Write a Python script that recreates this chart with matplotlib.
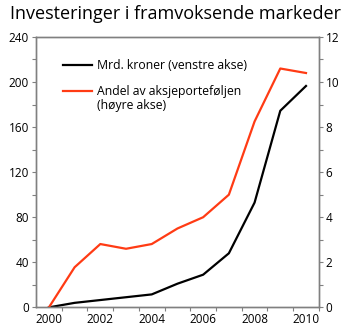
import matplotlib
matplotlib.use("Agg")
import matplotlib.pyplot as plt
from matplotlib.lines import Line2D
from matplotlib.ticker import MultipleLocator

plt.rcParams['font.family'] = ['Open Sans', 'DejaVu Sans']

years = [2000, 2001, 2002, 2003, 2004, 2005, 2006, 2007, 2008, 2009, 2010]
mrd_kroner = [0, 4, 6.5, 9, 11.5, 21, 29, 48, 93, 174.5, 196.5]
andel = [0, 1.78, 2.81, 2.6, 2.81, 3.5, 4.0, 5.0, 8.25, 10.6, 10.4]

grey = '#808080'
orange = '#ff3b14'

fig = plt.figure(figsize=(3.5, 3.33), dpi=100)
ax = fig.add_axes([0.103, 0.077, 0.808, 0.812])
ax2 = ax.twinx()

l1, = ax.plot(years, mrd_kroner, color='black', lw=1.6)
l2, = ax2.plot(years, andel, color=orange, lw=1.6)

ax.set_xlim(1999.5, 2010.5)
ax.set_ylim(0, 240)
ax2.set_ylim(0, 12)
ax.set_xticks([2000, 2002, 2004, 2006, 2008, 2010])
ax.set_xticks([y + 0.5 for y in years], minor=True)
ax.yaxis.set_major_locator(MultipleLocator(40))
ax.yaxis.set_minor_locator(MultipleLocator(20))
ax2.yaxis.set_major_locator(MultipleLocator(2))
ax2.yaxis.set_minor_locator(MultipleLocator(1))

for a in (ax, ax2):
    for s in a.spines.values():
        s.set_color(grey)
        s.set_linewidth(1.0)
    a.tick_params(which='both', colors=grey, labelcolor='black', labelsize=8.5, width=0.8)
    a.tick_params(which='major', length=3, pad=2)
    a.tick_params(which='minor', length=3)
ax.tick_params(axis='x', which='major', length=0, pad=4)
ax.tick_params(axis='x', which='minor', length=3)

# legend: handle sits on the first text line, as in the original
leg_kw = dict(loc='upper left', frameon=False, fontsize=8.8, handlelength=2.4, handletextpad=0.4)
leg1 = ax2.legend([l1], ['Mrd. kroner (venstre akse)'], bbox_to_anchor=(0.055, 0.959), **leg_kw)
ax2.add_artist(leg1)
blank = Line2D([], [], color='none')
ax2.legend([l2, blank], ['Andel av aksjeporteføljen', '(høyre akse)'],
           bbox_to_anchor=(0.055, 0.863), labelspacing=0.1, **leg_kw)

fig.text(0.5, 0.985, 'Investeringer i framvoksende markeder', ha='center', va='top', fontsize=13)

fig.savefig('out.png', dpi=100)
